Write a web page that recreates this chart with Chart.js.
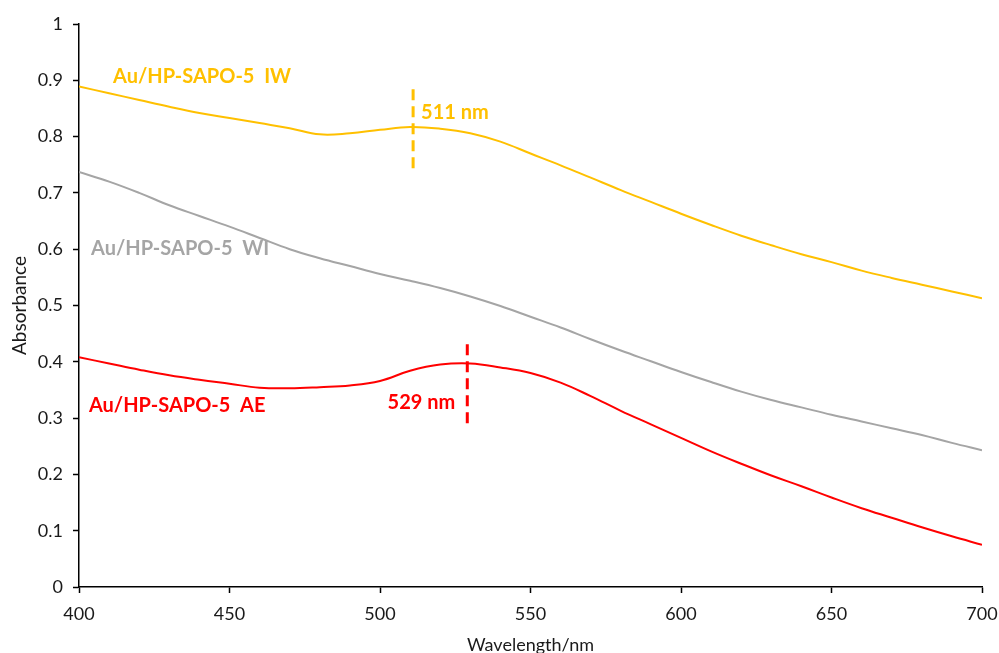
<!DOCTYPE html>
<html>
<head>
<meta charset="utf-8">
<script src="https://cdn.jsdelivr.net/npm/chart.js@4/dist/chart.umd.min.js"></script>
<style>
  html, body { margin: 0; padding: 0; background: #fff; }
  #uvChart { display: block; }
</style>
</head>
<body>
<canvas id="uvChart" width="999" height="653"></canvas>
<script>
// UV-vis absorbance spectra, sampled every 10 nm
const wavelength = [400, 410, 420, 430, 440, 450, 460, 470, 480, 490, 500, 510, 520, 530, 540, 550,
                    560, 570, 580, 590, 600, 610, 620, 630, 640, 650, 660, 670, 680, 690, 700];

const absIW = [0.889, 0.877, 0.865, 0.853, 0.842, 0.833, 0.824, 0.815, 0.804, 0.806, 0.812, 0.817, 0.814, 0.806, 0.791, 0.770,
               0.749, 0.727, 0.705, 0.684, 0.663, 0.643, 0.624, 0.607, 0.591, 0.577, 0.562, 0.549, 0.537, 0.525, 0.513];

const absWI = [0.737, 0.720, 0.700, 0.678, 0.659, 0.640, 0.620, 0.600, 0.584, 0.570, 0.556, 0.544, 0.531, 0.516, 0.499, 0.480,
               0.461, 0.440, 0.420, 0.401, 0.382, 0.364, 0.347, 0.332, 0.319, 0.306, 0.294, 0.282, 0.270, 0.256, 0.243];

const absAE = [0.408, 0.397, 0.386, 0.376, 0.368, 0.361, 0.354, 0.353, 0.355, 0.358, 0.366, 0.384, 0.395, 0.397, 0.390, 0.380,
               0.363, 0.339, 0.313, 0.289, 0.265, 0.241, 0.219, 0.198, 0.179, 0.159, 0.140, 0.123, 0.106, 0.090, 0.075];

// plasmon band maxima (nm) and the span of the marker line
const peakIW = 511;
const peakAE = 529;
const markIW = [0.744, 0.884];
const markAE = [0.291, 0.432];

const xTicks = [400, 450, 500, 550, 600, 650, 700];

const YELLOW = '#FFC000';
const GREY = '#A5A5A5';
const RED = '#FF0000';
const INK = '#1a1a1a';
const FONT = 'Lato, "Open Sans", sans-serif';

const toPoints = ys => wavelength.map((w, i) => ({ x: w, y: ys[i] }));
const peakLine = (w, span) => span.map(v => ({ x: w, y: v }));

// text labels, anchored in data units; dx nudges the peak labels off their dashed line
const labels = [
  { text: 'Au/HP-SAPO-5  IW', x: 411.3, y: 0.906, color: YELLOW, align: 'left', dx: 0 },
  { text: 'Au/HP-SAPO-5  WI', x: 404.0, y: 0.602, color: GREY, align: 'left', dx: 0 },
  { text: 'Au/HP-SAPO-5  AE', x: 403.3, y: 0.323, color: RED, align: 'left', dx: 0 },
  { text: peakIW + ' nm', x: peakIW, y: 0.842, color: YELLOW, align: 'left', dx: 8 },
  { text: peakAE + ' nm', x: peakAE, y: 0.327, color: RED, align: 'right', dx: -12 }
];

const labelPlugin = {
  id: 'seriesLabels',
  afterDatasetsDraw(chart) {
    const { ctx, scales } = chart;
    ctx.save();
    ctx.font = 'bold 20px ' + FONT;
    ctx.textBaseline = 'middle';
    labels.forEach(l => {
      ctx.fillStyle = l.color;
      ctx.textAlign = l.align;
      ctx.fillText(l.text, scales.x.getPixelForValue(l.x) + l.dx, scales.y.getPixelForValue(l.y));
    });
    ctx.restore();
  }
};

const spectrum = (data, color) => ({
  data: data,
  borderColor: color,
  borderWidth: 2,
  pointRadius: 0,
  tension: 0.4,
  fill: false
});

const marker = (data, color) => ({
  data: data,
  borderColor: color,
  borderWidth: 3,
  borderDash: [11, 6],
  pointRadius: 0,
  fill: false
});

new Chart(document.getElementById('uvChart'), {
  type: 'line',
  data: {
    datasets: [
      spectrum(toPoints(absIW), YELLOW),
      spectrum(toPoints(absWI), GREY),
      spectrum(toPoints(absAE), RED),
      marker(peakLine(peakIW, markIW), YELLOW),
      marker(peakLine(peakAE, markAE), RED)
    ]
  },
  options: {
    responsive: false,
    animation: false,
    layout: { padding: { top: 24, right: 17, bottom: 0, left: 0 } },
    plugins: { legend: { display: false }, tooltip: { enabled: false } },
    scales: {
      x: {
        type: 'linear',
        min: 400,
        max: 700,
        afterBuildTicks: axis => { axis.ticks = xTicks.map(v => ({ value: v })); },
        afterFit: axis => {
          axis.height = 66;
          axis.paddingLeft = 0;
          axis.paddingRight = 0;
        },
        border: { display: true, color: '#000', width: 1.5 },
        grid: { drawOnChartArea: false, color: '#000', tickLength: 6, tickWidth: 1.5 },
        ticks: { color: INK, font: { family: FONT, size: 18 }, padding: 10, maxRotation: 0 },
        title: {
          display: true,
          text: 'Wavelength/nm',
          color: INK,
          font: { family: FONT, size: 18 },
          padding: { top: 0, bottom: -3 }
        }
      },
      y: {
        min: 0,
        max: 1,
        afterFit: axis => { axis.width = 79; },
        border: { display: true, color: '#000', width: 1.5 },
        grid: { drawOnChartArea: false, color: '#000', tickLength: 6, tickWidth: 1.5 },
        ticks: {
          stepSize: 0.1,
          color: INK,
          font: { family: FONT, size: 18 },
          padding: 10,
          callback: v => String(Math.round(v * 10) / 10)
        },
        title: {
          display: true,
          text: 'Absorbance',
          color: INK,
          font: { family: FONT, size: 19 },
          padding: { top: 8, bottom: 0 }
        }
      }
    }
  },
  plugins: [labelPlugin]
});
</script>
</body>
</html>
